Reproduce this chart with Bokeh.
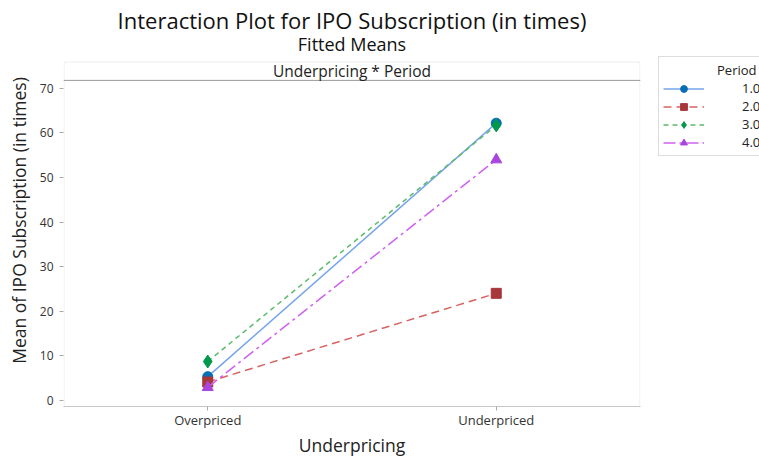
from bokeh.plotting import figure
from bokeh.layouts import row
from bokeh.models import (FactorRange, Range1d, FixedTicker, Span, Label, Legend,
                          LegendItem, BoxAnnotation, ColumnDataSource)
from bokeh.embed import file_html
from bokeh.resources import INLINE

# ---- data ----
categories = ["Overpriced", "Underpriced"]
periods = ["1.0", "2.0", "3.0", "4.0"]
mean_overpriced = [5.3, 4.1, 8.7, 2.9]
mean_underpriced = [62.2, 24.0, 61.7, 54.0]
y_ticks = [0, 10, 20, 30, 40, 50, 60, 70]

marker_colors = ["#0A6EB4", "#A6373B", "#00994C", "#A845DD"]
line_colors = ["#76A4EA", "#D86262", "#5DBB6B", "#D062F0"]
line_dashes = ["solid", "8 5", "5 4", "12 4 3 4"]
markers = ["circle", "square", "diamond", "triangle"]
marker_sizes = [10, 10, 13, 11]

FONT = "Open Sans"

# panel geometry in data units (frame extends up to hold the subtitle)
Y_MIN, Y_PANEL_TOP, Y_TOP = -1.4, 75.9, 82.1
STRIP_LINE = 71.8
SUBTITLE_Y = 79.9

p = figure(width=642, height=459, output_backend="svg", toolbar_location=None,
           x_range=FactorRange(factors=categories, range_padding=0),
           y_range=Range1d(Y_MIN, Y_TOP),
           min_border_left=63, min_border_right=2, min_border_bottom=51,
           min_border_top=34)

p.title.text = "Interaction Plot for IPO Subscription (in times)"
p.title.align = "center"
p.title.text_font = FONT
p.title.text_font_size = "22px"
p.title.text_font_style = "normal"
p.title.text_color = "#111111"
p.title.standoff = 0

p.background_fill_color = "white"
p.border_fill_color = "white"
p.outline_line_color = None
p.xgrid.visible = False
p.ygrid.visible = False

p.yaxis.ticker = FixedTicker(ticks=y_ticks)
for ax in (p.xaxis, p.yaxis):
    ax.axis_line_color = "#C8C8C8"
    ax.major_tick_line_color = "#AAAAAA"
    ax.major_tick_out = 4
    ax.major_tick_in = 0
    ax.minor_tick_line_color = None
    ax.major_label_text_font = FONT
    ax.major_label_text_color = "#333333"
    ax.axis_label_text_font = FONT
    ax.axis_label_text_font_style = "normal"
    ax.axis_label_text_color = "#222222"
    ax.axis_label_text_font_size = "17.5px"
p.yaxis.axis_line_color = None  # left border comes from the panel box
p.yaxis.axis_label = "Mean of IPO Subscription (in times)"
p.yaxis.major_label_text_font_size = "12px"
p.yaxis.major_label_standoff = 6
p.yaxis.axis_label_standoff = 6
p.xaxis.axis_label = "Underpricing"
p.xaxis.major_label_text_font_size = "13px"
p.xaxis.major_label_standoff = 0
p.xaxis.axis_label_standoff = 1

# panel border + strip header
p.add_layout(BoxAnnotation(left=0.002, right=1.998, bottom=Y_MIN, top=Y_PANEL_TOP,
                           fill_alpha=0, line_color="#C8C8C8", line_width=1))
p.add_layout(Span(location=STRIP_LINE, dimension="width", line_color="#999999",
                  line_width=1))
p.add_layout(Label(x=1.0, y=(STRIP_LINE + Y_PANEL_TOP) / 2, text="Underpricing * Period",
                   text_align="center", text_baseline="middle", text_font=FONT,
                   text_font_size="15.5px", text_color="#222222"))
p.add_layout(Label(x=1.0, y=SUBTITLE_Y, text="Fitted Means", text_align="center",
                   text_baseline="middle", text_font=FONT, text_font_size="18px",
                   text_color="#111111"))

for i, per in enumerate(periods):
    src = ColumnDataSource(dict(x=categories, y=[mean_overpriced[i], mean_underpriced[i]]))
    p.line("x", "y", source=src, line_color=line_colors[i], line_width=1.5,
           line_dash=line_dashes[i])
    p.scatter("x", "y", source=src, marker=markers[i], size=marker_sizes[i],
              fill_color=marker_colors[i], line_color=marker_colors[i])

# ---- legend panel (separate small figure; its glyphs sit outside its view) ----
lg = figure(width=117, height=459, output_backend="svg", toolbar_location=None,
            x_range=Range1d(0, 1), y_range=Range1d(500, 501),
            min_border_left=16, min_border_top=34, min_border_right=0,
            min_border_bottom=51)
lg.axis.visible = False
lg.grid.visible = False
lg.outline_line_color = None
lg.background_fill_color = "white"
lg.border_fill_color = "white"

items = []
for i, per in enumerate(periods):
    src = ColumnDataSource(dict(x=[0, 1], y=[mean_overpriced[i], mean_underpriced[i]]))
    ln = lg.line("x", "y", source=src, line_color=line_colors[i],
                 line_width=1.5, line_dash=line_dashes[i])
    mk = lg.scatter("x", "y", source=src, marker=markers[i],
                    size=marker_sizes[i], fill_color=marker_colors[i],
                    line_color=marker_colors[i])
    items.append(LegendItem(label=per, renderers=[ln, mk]))

legend = Legend(items=items, location=(0, 250), glyph_width=41, label_standoff=38,
                label_text_font=FONT, label_text_font_size="13px",
                label_text_color="#222222", border_line_color="#BBBBBB",
                padding=4, spacing=0, label_height=17, glyph_height=17,
                margin=0, background_fill_alpha=1,
                title="\u00a0" * 16 + "Period", title_text_font=FONT,
                title_text_font_size="13px", title_text_font_style="normal",
                title_text_color="#222222", title_standoff=0)
lg.add_layout(legend, "center")

layout = row(p, lg)
open("out.html", "w").write(file_html(layout, INLINE))
